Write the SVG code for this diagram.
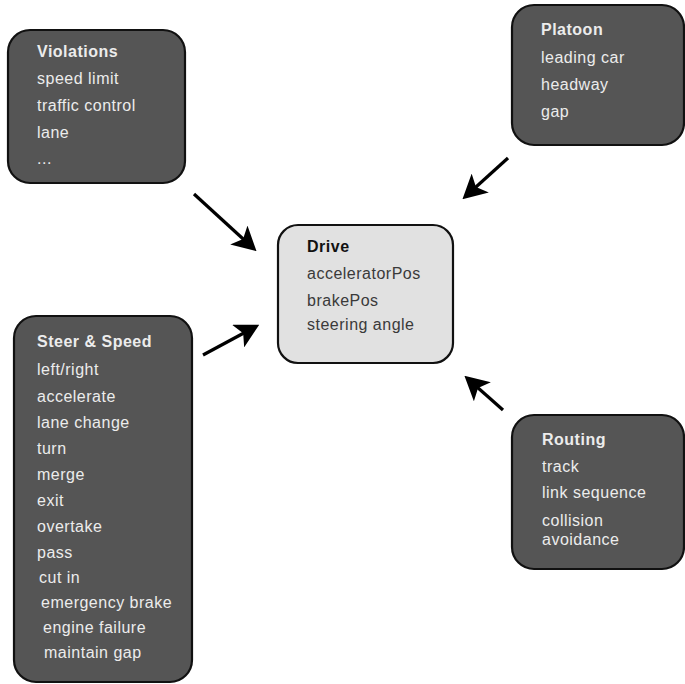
<svg xmlns="http://www.w3.org/2000/svg" width="685" height="684" viewBox="0 0 685 684">
<defs>
<style>
.dark{fill:#555555;stroke:#111111;stroke-width:2.2}
.light{fill:#e1e1e1;stroke:#111111;stroke-width:2.2}
text{font-family:"Liberation Sans",Arial,sans-serif;font-size:16px;letter-spacing:0.5px}
.dt{fill:#ececec}
.lt{fill:#3a3a3a}
.b{font-weight:bold}
.conn{stroke:#000;stroke-width:3.2;fill:none;marker-end:url(#ah)}
</style>
<marker id="ah" markerWidth="7.5" markerHeight="8" refX="6" refY="4" orient="auto" markerUnits="strokeWidth" viewBox="0 0 7.5 8">
<path d="M0,0 L7.5,4 L0,8 L1.8,4 Z" fill="#000"/>
</marker>
</defs>
<rect width="685" height="684" fill="#ffffff"/>
<g id="connectors">
<line class="conn" x1="194" y1="194" x2="253" y2="248"/>
<line class="conn" x1="203" y1="355" x2="255" y2="327"/>
<line class="conn" x1="508" y1="158" x2="466" y2="196"/>
<line class="conn" x1="503" y1="410" x2="468" y2="379"/>
</g>
<g id="violations">
<rect class="dark" x="8" y="30" width="177" height="153" rx="22"/>
<text class="dt b" x="37" y="57">Violations</text>
<text class="dt" x="37" y="84">speed limit</text>
<text class="dt" x="37" y="111">traffic control</text>
<text class="dt" x="37" y="138">lane</text>
<text class="dt" x="37" y="164">...</text>
</g>
<g id="platoon">
<rect class="dark" x="512" y="5" width="172" height="140" rx="22"/>
<text class="dt b" x="541" y="35">Platoon</text>
<text class="dt" x="541" y="63">leading car</text>
<text class="dt" x="541" y="90">headway</text>
<text class="dt" x="541" y="117">gap</text>
</g>
<g id="drive">
<rect class="light" x="278" y="225" width="175" height="138" rx="20"/>
<text class="b" fill="#111" x="307" y="252">Drive</text>
<text class="lt" x="307" y="279">acceleratorPos</text>
<text class="lt" x="307" y="306">brakePos</text>
<text class="lt" x="307" y="330">steering angle</text>
</g>
<g id="steer-speed">
<rect class="dark" x="14" y="316" width="178" height="366" rx="22"/>
<text class="dt b" x="37" y="347">Steer &amp; Speed</text>
<text class="dt" x="37" y="375">left/right</text>
<text class="dt" x="37" y="402">accelerate</text>
<text class="dt" x="37" y="428">lane change</text>
<text class="dt" x="37" y="454">turn</text>
<text class="dt" x="37" y="480">merge</text>
<text class="dt" x="37" y="506">exit</text>
<text class="dt" x="37" y="532">overtake</text>
<text class="dt" x="37" y="558">pass</text>
<text class="dt" x="39" y="583">cut in</text>
<text class="dt" x="41" y="608">emergency brake</text>
<text class="dt" x="43" y="633">engine failure</text>
<text class="dt" x="44" y="658">maintain gap</text>
</g>
<g id="routing">
<rect class="dark" x="512" y="415" width="172" height="154" rx="22"/>
<text class="dt b" x="542" y="445">Routing</text>
<text class="dt" x="542" y="472">track</text>
<text class="dt" x="542" y="498">link sequence</text>
<text class="dt" x="542" y="526">collision</text>
<text class="dt" x="542" y="545">avoidance</text>
</g>
</svg>
